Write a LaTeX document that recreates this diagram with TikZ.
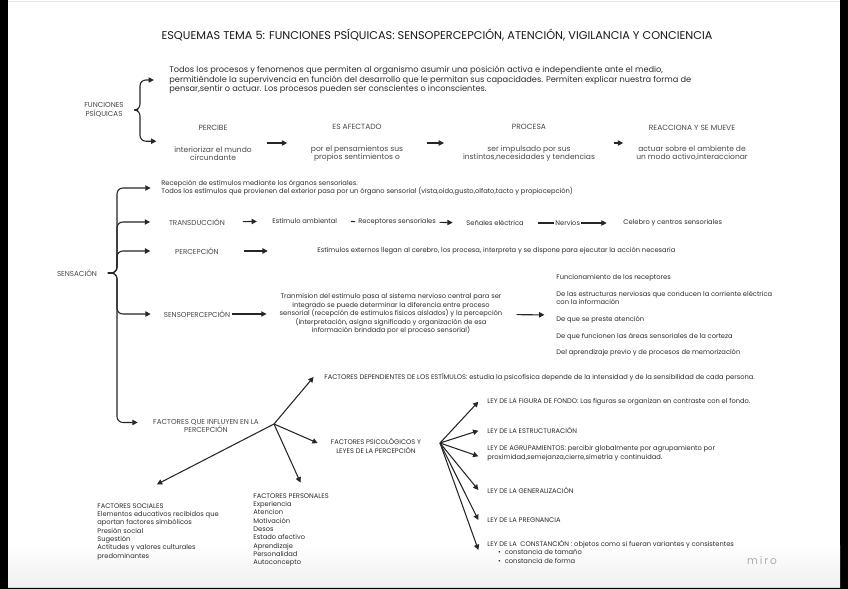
\documentclass[tikz,border=0pt]{standalone}
\usepackage{fontspec}
\setmainfont{Poppins}
\usetikzlibrary{arrows.meta}
\definecolor{ink}{HTML}{2C2C2C}
\definecolor{soft}{HTML}{484848}
\definecolor{wire}{HTML}{262626}
\begin{document}
\begin{tikzpicture}[x=0.85pt, y=-0.85pt,
  txt/.style={inner sep=1pt, text=ink, font=\fontsize{5.7}{7.1}\selectfont},
  para/.style={txt, align=left, anchor=west},
  big/.style={txt, font=\fontsize{7}{7.9}\selectfont},
  head/.style={txt, text=soft, font=\fontsize{6.1}{7.1}\selectfont},
  colum/.style={txt, align=center, text=soft, font=\fontsize{6.4}{7.1}\selectfont},
  arr/.style={line width=0.9pt, draw=wire, -{Triangle[length=4.5pt,width=4.5pt]}},
  lin/.style={line width=0.9pt, draw=wire}]

% page
\fill[black] (0,0) rectangle (848,589);
\fill[white] (8,0) rectangle (840,587);
\shade[top color=white, bottom color=black!6] (8,545) rectangle (840,587);
\draw[black!10] (8,1) -- (840,1);
\draw[black!14] (8,587) -- (840,587);
\useasboundingbox (0,0) rectangle (848,589);

\node[txt, text=black!90, font=\fontsize{9.6}{11}\selectfont] (title) at (437,35) {ESQUEMAS TEMA 5: FUNCIONES PSÍQUICAS: SENSOPERCEPCIÓN, ATENCIÓN, VIGILANCIA Y CONCIENCIA};

% funciones psiquicas
\node[head, align=center] (fp) at (104,110) {FUNCIONES\\PSÍQUICAS};
\node[big, align=left, anchor=west] (intro) at (168,80) {Todos los procesos y fenomenos que permiten al organismo asumir una posición activa e independiente ante el medio,\\permitiéndole la supervivencia en función del desarrollo que le permitan sus capacidades. Permiten explicar nuestra forma de\\pensar,sentir o actuar. Los procesos pueden ser conscientes o inconscientes.};
\node[colum] (percibe) at (213,143) {PERCIBE\\[11pt]interiorizar el mundo\\circundante};
\node[colum] (afectado) at (357,143) {ES AFECTADO\\[11pt]por el pensamientos sus\\propios sentimientos o};
\node[colum] (procesa) at (529,143) {PROCESA\\[11pt]ser impulsado por sus\\instintos,necesidades y tendencias};
\node[colum] (reacciona) at (692,143) {REACCIONA Y SE MUEVE\\[11pt]actuar sobre el ambiente de\\un modo activo,interaccionar};

\draw[arr, rounded corners=5pt, shorten <=11pt] (fp.east) -- (140,110) |- ([xshift=-12pt]intro.west);
\draw[arr, rounded corners=5pt, shorten <=11pt] (fp.east) -- (140,110) |- ([xshift=-14pt,yshift=1.5pt]percibe.west);
\draw[arr, shorten <=12pt, shorten >=19pt] (percibe) -- (afectado);
\draw[arr, shorten <=19pt, shorten >=15pt] (afectado) -- (procesa);
\draw[arr, shorten <=15pt, shorten >=10pt] (procesa) -- (reacciona);

% sensacion
\node[head] (sens) at (77,273) {SENSACIÓN};
\node[para] (rec) at (160,188) {Recepción de estímulos mediante los órganos sensoriales.\\Todos los estímulos que provienen del exterior pasa por un órgano sensorial (vista,oido,gusto,olfato,tacto y propiocepción)};
\node[head] (trans) at (197,222) {TRANSDUCCIÓN};
\node[head] (perc) at (197,251) {PERCEPCIÓN};
\node[head] (senso) at (197,314) {SENSOPERCEPCIÓN};
\node[head, align=center] (factores) at (206,426) {FACTORES QUE INFLUYEN EN LA\\PERCEPCIÓN};

\draw[arr, rounded corners=5pt, shorten <=8pt] (sens.east) -- (117,273) |- ([xshift=-8pt]rec.west);
\draw[arr, rounded corners=5pt, shorten <=8pt] (sens.east) -- (117,273) |- ([xshift=-15pt]trans.west);
\draw[arr, rounded corners=5pt, shorten <=8pt] (sens.east) -- (117,273) |- ([xshift=-20pt]perc.west);
\draw[arr, rounded corners=5pt, shorten <=8pt] (sens.east) -- (117,273) |- ([xshift=-10pt]senso.west);
\draw[arr, rounded corners=5pt, shorten <=8pt] (sens.east) -- (117,273) |- ([xshift=-12pt,yshift=3pt]factores.west);

% transduccion
\node[para] (estim) at (271,221) {Estímulo ambiental};
\node[para] (recep) at (357,222) {Receptores sensoriales};
\node[para] (senal) at (465,223) {Señales eléctrica};
\node[para] (celebro) at (622,223) {Celebro y centros sensoriales};
\draw[arr, shorten <=14pt, shorten >=12pt] (trans) -- (estim);
\draw[lin, shorten <=10.5pt, shorten >=1.5pt] (estim) -- (recep);
\draw[arr, shorten <=2pt, shorten >=10.5pt] (recep) -- (senal);
\draw[arr, shorten <=11pt, shorten >=13pt] (senal) -- node[txt, fill=white, pos=0.44] (nerv) {Nervios} (celebro);

% percepcion
\node[para] (estext) at (316,251) {Estímulos externos llegan al cerebro, los procesa, interpreta y se dispone para ejecutar la acción necesaria};
\draw[arr, shorten <=20pt, shorten >=41pt] (perc) -- (estext);

% sensopercepcion
\node[txt, align=center] (tran) at (391,314) {Tranmision del estimulo pasa al sistema nervioso central para ser\\integrado se puede determinar la diferencia entre proceso\\sensorial (recepción de estimulos fisicos aislados) y la percepción\\(interpretación, asigna significado y organización de esa\\información brindada por el proceso sensorial)};
\node[para] (lista) at (555,315.5) {Funcionamiento de los receptores\\[7.1pt]De las estructuras nerviosas que conducen la corriente eléctrica\\con la información\\[7.1pt]De que se preste atención\\[7.1pt]De que funcionen las áreas sensoriales de la corteza\\[7.1pt]Del aprendizaje previo y de procesos de memorización};
\draw[arr, shorten >=10pt] (senso) -- (tran);
\draw[arr, shorten <=11pt, shorten >=9pt] (tran) -- (lista);

% factores
\coordinate (h1) at (274,424);
\node[para] (dep) at (323,377) {FACTORES DEPENDIENTES DE LOS ESTÍMULOS: estudia la psicofísica depende de la intensidad y de la sensibilidad de cada persona.};
\node[txt, align=center] (psico) at (376,446) {FACTORES PSICOLÓGICOS Y\\LEYES DE LA PERCEPCIÓN};
\node[txt, align=left, anchor=north west] (pers) at (252,492) {FACTORES PERSONALES\\Experiencia\\Atencion\\Motivación\\Desos\\Estado afectivo\\Aprendizaje\\Personalidad\\Autoconcepto};
\node[txt, align=left, anchor=north west] (soc) at (96,502) {FACTORES SOCIALES\\Elementos educativos recibidos que\\aportan factores simbólicos\\Presión social\\Sugestión\\Actitudes y valores culturales\\predominantes};
\draw[arr] (h1) -- ([xshift=-8pt]dep.west);
\draw[arr] (h1) -- ([xshift=-10pt,yshift=2.5pt]psico.west);
\draw[arr] (h1) -- ([xshift=8pt,yshift=8pt]pers.north);
\draw[arr] (h1) -- ([xshift=-1pt,yshift=15pt]soc.north);

% leyes
\coordinate (h2) at (440,443);
\node[para] (l1) at (486,401.7) {LEY DE LA FIGURA DE FONDO: Las figuras se organizan en contraste con el fondo.};
\node[para] (l2) at (486,430.7) {LEY DE LA ESTRUCTURACIÓN};
\node[para] (l3) at (486,453.3) {LEY DE AGRUPAMIENTOS: percibir globalmente por agrupamiento por\\proximidad,semejanza,cierre,simetría y continuidad.};
\node[para] (l4) at (486,490) {LEY DE LA GENERALIZACIÓN};
\node[para] (l5) at (486,520) {LEY DE LA PREGNANCIA};
\node[para] (l6) at (486,551.7) {LEY DE LA \ CONSTANCIÓN : objetos como si fueran variantes y consistentes\\\hspace*{9pt}\textbullet\hspace{3.5pt}constancia de tamaño\\\hspace*{9pt}\textbullet\hspace{3.5pt}constancia de forma};
\foreach \ley/\dy in {l1/0, l2/0, l3/-2.5, l4/0, l5/0, l6/1.5}
  \draw[arr] (h2) -- ([xshift=-6.5pt,yshift=\dy pt]\ley.west);

\node[txt, text=black!32, font=\fontsize{9}{10}\selectfont] (miro) at (762,561) {m\,i\,r\,o};
\end{tikzpicture}
\end{document}
